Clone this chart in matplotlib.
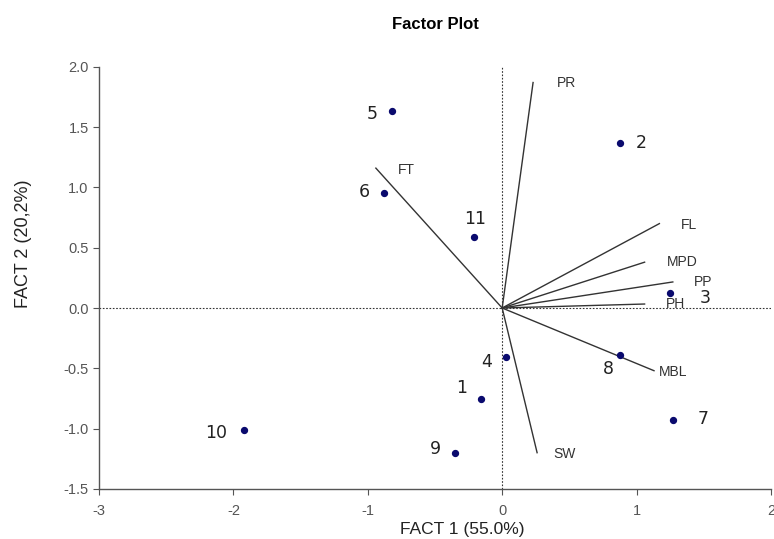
import matplotlib

matplotlib.use("Agg")
import matplotlib.pyplot as plt

plt.rcParams["font.family"] = ["Liberation Sans", "DejaVu Sans"]
plt.rcParams["axes.unicode_minus"] = False

# observation scores (FACT 1, FACT 2)
obs_labels = ["1", "2", "3", "4", "5", "6", "7", "8", "9", "10", "11"]
obs_x = [-0.16, 0.88, 1.25, 0.03, -0.82, -0.88, 1.27, 0.88, -0.35, -1.92, -0.21]
obs_y = [-0.755, 1.37, 0.125, -0.41, 1.63, 0.95, -0.93, -0.39, -1.20, -1.01, 0.59]

# variable loadings (vector ends)
var_labels = ["PR", "FT", "FL", "MPD", "PP", "PH", "MBL", "SW"]
var_x = [0.23, -0.94, 1.17, 1.06, 1.27, 1.06, 1.13, 0.26]
var_y = [1.87, 1.16, 0.70, 0.38, 0.216, 0.033, -0.52, -1.20]

# label offsets in points (style only)
obs_offsets = {
    "1": (-14, 8), "2": (15, 0), "3": (25, -4), "4": (-14, -3),
    "5": (-14, -2), "6": (-14, 1), "7": (22, 1), "8": (-9, -10),
    "9": (-14, 3), "10": (-20, -2), "11": (1, 13),
}
var_offsets = {
    "PR": (24, 0), "FT": (22, -1), "FL": (21, -1), "MPD": (27, 0),
    "PP": (22, 0), "PH": (22, 0), "MBL": (14, -1), "SW": (20, -1),
}

fig = plt.figure(figsize=(7.74, 5.39), dpi=100)
ax = fig.add_axes([0.128, 0.093, 0.868, 0.783])

ax.axvline(0, color="#333333", lw=0.8, ls=(0, (1.5, 1.5)), zorder=1)
ax.axhline(0, color="#333333", lw=0.8, ls=(0, (1.5, 1.5)), zorder=1)

for lab, vx, vy in zip(var_labels, var_x, var_y):
    ax.plot([0, vx], [0, vy], color="#333333", lw=1.0, zorder=2)
    dx, dy = var_offsets[lab]
    ax.annotate(lab, (vx, vy), xytext=(dx, dy), textcoords="offset points",
                ha="center", va="center", fontsize=10, color="#333333")

ax.scatter(obs_x, obs_y, s=18, color="#0A0A6E", zorder=3)
for lab, ox, oy in zip(obs_labels, obs_x, obs_y):
    dx, dy = obs_offsets[lab]
    ax.annotate(lab, (ox, oy), xytext=(dx, dy), textcoords="offset points",
                ha="center", va="center", fontsize=12.5, color="#222222",
                family="DejaVu Sans")

ax.set_xlim(-3, 2)
ax.set_ylim(-1.5, 2.0)
ax.set_xticks([-3, -2, -1, 0, 1, 2])
ax.set_yticks([-1.5, -1.0, -0.5, 0.0, 0.5, 1.0, 1.5, 2.0])
ax.yaxis.set_major_formatter(matplotlib.ticker.FormatStrFormatter("%.1f"))
for side in ("top", "right"):
    ax.spines[side].set_visible(False)
for side in ("left", "bottom"):
    ax.spines[side].set_color("#555555")
    ax.spines[side].set_linewidth(1.0)
ax.tick_params(axis="both", colors="#555555", labelsize=10.5, length=4, direction="out")
ax.tick_params(axis="x", pad=7)

ax.set_xlabel("FACT 1 (55.0%)", fontsize=12.5, color="#222222")
ax.xaxis.set_label_coords(0.54, -0.079)
ax.set_ylabel("FACT 2 (20,2%)", fontsize=13, color="#222222")
ax.yaxis.set_label_coords(-0.1, 0.58)

ax.set_title("Factor Plot", fontsize=12, fontweight="bold", pad=27)

fig.savefig("out.png", dpi=100)
